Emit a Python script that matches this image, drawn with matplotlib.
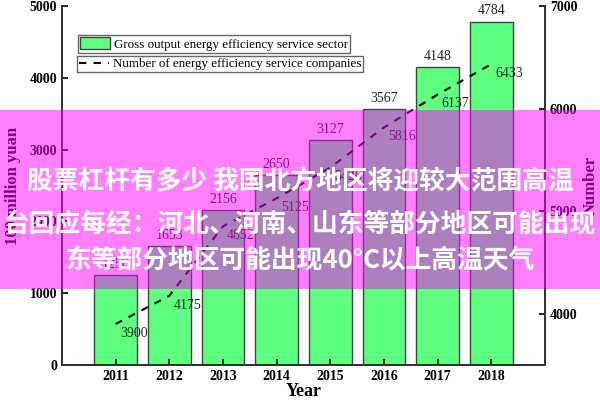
import matplotlib
matplotlib.use("Agg")
import matplotlib.pyplot as plt
from matplotlib.patches import Rectangle

plt.rcParams["font.family"] = ["Liberation Serif", "DejaVu Serif"]

# data
years = [2011, 2012, 2013, 2014, 2015, 2016, 2017, 2018]
output = [1250, 1653, 2156, 2650, 3127, 3567, 4148, 4784]
companies = [3900, 4175, 4852, 5125, 5426, 5816, 6137, 6433]

bar_label = "Gross output energy efficiency service sector"
line_label = "Number of energy efficiency service companies"
banner_lines = [
    "股票杠杆有多少 我国北方地区将迎较大范围高温",
    "台回应每经：河北、河南、山东等部分地区可能出现",
    "东等部分地区可能出现40°C以上高温天气",
]

fig = plt.figure(figsize=(6, 4), dpi=100)
ax = fig.add_axes([0.1033, 0.0875, 0.8050, 0.8975])
ax2 = ax.twinx()

bars = ax.bar(years, output, width=0.8, color="#5eff80", edgecolor="#444444",
              linewidth=1.0, label=bar_label)
for b, v in zip(bars, output):
    ax.annotate(str(v), (b.get_x() + b.get_width() / 2, v), xytext=(0, 3),
                textcoords="offset points", ha="center", va="bottom",
                fontsize=10, color="#222222")

line, = ax2.plot(years, companies, color="black", lw=1.5,
                 linestyle=(0, (3.5, 3.5)), label=line_label)
for x, v in zip(years, companies):
    ax2.annotate(str(v), (x, v), xytext=(3, -2), textcoords="offset points",
                 ha="left", va="top", fontsize=10, color="#1e2e24")

ax.set_xlim(2010, 2019)
ax.set_ylim(0, 5000)
ax2.set_ylim(3500, 7000)
ax.set_xticks(years)
ax.set_yticks(range(0, 5001, 1000))
ax2.set_yticks(range(4000, 7001, 1000))

for a in (ax, ax2):
    a.spines["top"].set_visible(False)
    for s in ("left", "right", "bottom"):
        a.spines[s].set_linewidth(1.4)
        a.spines[s].set_color("#333333")
    a.tick_params(direction="in", length=4, width=1.2, labelsize=10)
    for t in a.get_xticklabels() + a.get_yticklabels():
        t.set_fontweight("bold")

ax.set_xlabel("Year", fontsize=13, fontweight="bold", labelpad=0)
ax.set_ylabel("100 million yuan", fontsize=12, fontweight="bold", labelpad=6)
ax2.set_ylabel("Number", fontsize=12, fontweight="bold", labelpad=4)

leg1 = ax.legend(handles=[bars], loc="upper left", bbox_to_anchor=(0.033, 0.918),
                 fontsize=9.4, fancybox=False, edgecolor="#666666",
                 borderpad=0.15, borderaxespad=0, handlelength=2.3,
                 handleheight=1.0, handletextpad=0.3, framealpha=1)
leg2 = ax2.legend(handles=[line], loc="upper left", bbox_to_anchor=(0.031, 0.860),
                  fontsize=9.4, fancybox=False, edgecolor="#666666",
                  borderpad=0.15, borderaxespad=0, handlelength=2.3,
                  handletextpad=0.3, framealpha=1)
leg1.get_frame().set_linewidth(1.0)
leg2.get_frame().set_linewidth(1.0)

# magenta banner laid over the chart
fig.add_artist(Rectangle((0, 0.2775), 1, 0.4475, transform=fig.transFigure,
                         facecolor="#ff00ff", alpha=0.5, edgecolor="none",
                         zorder=10))
for y, txt in zip([0.545, 0.4375, 0.347], banner_lines):
    fig.text(0.5, y, txt, ha="center", va="center", color="white",
             fontsize=18.5, fontweight="bold",
             family=["Noto Sans CJK SC", "DejaVu Sans"], zorder=11)

fig.savefig("out.png", dpi=100)
